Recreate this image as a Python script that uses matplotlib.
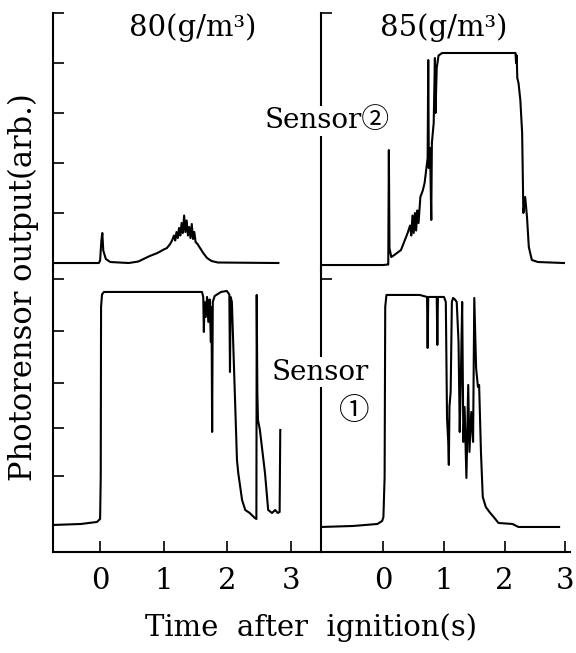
import matplotlib
matplotlib.use('Agg')
import matplotlib.pyplot as plt

# ---- data (arbitrary photosensor units) ----
# 80 g/m3, sensor 2 (upper trace)
t80_s2 = [-0.74, -0.02, 0.0, 0.02, 0.035, 0.05, 0.09, 0.16, 0.45, 0.6, 0.78, 0.9, 1.0, 1.05, 1.1,
          1.13, 1.16, 1.18, 1.2, 1.22, 1.24, 1.26, 1.28, 1.3, 1.32, 1.34, 1.36, 1.38, 1.4, 1.42,
          1.44, 1.46, 1.48, 1.5, 1.53, 1.57, 1.62, 1.68, 1.75, 1.85, 2.8]
v80_s2 = [0.0, 0.0, 0.05, 0.45, 0.6, 0.25, 0.08, 0.02, 0.0, 0.03, 0.14, 0.2, 0.27, 0.3, 0.38,
          0.45, 0.55, 0.45, 0.62, 0.5, 0.7, 0.55, 0.8, 0.6, 0.95, 0.62, 0.85, 0.55, 0.72, 0.5,
          0.78, 0.48, 0.62, 0.42, 0.38, 0.3, 0.2, 0.1, 0.04, 0.01, 0.0]

# 80 g/m3, sensor 1 (lower trace)
t80_s1 = [-0.74, -0.3, -0.05, 0.0, 0.01, 0.015, 0.03, 0.06, 1.0, 1.6, 1.62, 1.63, 1.64, 1.66,
          1.68, 1.7, 1.72, 1.74, 1.75, 1.76, 1.77, 1.8, 1.9, 1.99, 2.03, 2.04, 2.05, 2.07, 2.15,
          2.17, 2.23, 2.28, 2.35, 2.43, 2.455, 2.46, 2.47, 2.48, 2.51, 2.59, 2.64, 2.7, 2.75,
          2.79, 2.82, 2.83]
v80_s1 = [0.54, 0.56, 0.6, 0.66, 1.5, 4.9, 5.15, 5.2, 5.2, 5.2, 5.1, 4.4, 5.0, 4.7,
          5.1, 4.6, 5.05, 4.2, 4.9, 2.4, 5.0, 5.12, 5.2, 5.22, 5.15, 3.6, 5.1, 5.0, 1.84,
          1.58, 1.04, 0.84, 0.78, 0.68, 0.66, 5.14, 3.2, 2.64, 2.44, 1.58, 0.84, 0.78, 0.84,
          0.78, 0.8, 2.44]

# 85 g/m3, sensor 2 (upper trace)
t85_s2 = [-1.03, 0.0, 0.07, 0.08, 0.09, 0.1, 0.13, 0.18, 0.29, 0.4, 0.44, 0.46, 0.48, 0.5, 0.52,
          0.54, 0.56, 0.58, 0.61, 0.65, 0.68, 0.71, 0.73, 0.74, 0.75, 0.77, 0.79, 0.8, 0.83, 0.85,
          0.86, 0.88, 0.91, 0.97, 2.1, 2.18, 2.19, 2.2, 2.21, 2.23, 2.26, 2.29, 2.31, 2.34, 2.37,
          2.4, 2.45, 2.55, 2.98]
v85_s2 = [-0.04, -0.04, -0.03, -0.03, 2.26, 0.3, 0.12, 0.16, 0.26, 0.6, 0.75, 0.55, 0.95, 0.6, 1.0,
          0.65, 1.05, 0.8, 1.32, 1.45, 1.6, 1.9, 2.1, 4.06, 1.9, 2.3, 0.86, 2.4, 2.8, 4.1,
          3.0, 3.9, 4.15, 4.2, 4.2, 4.2, 4.0, 4.15, 3.7, 3.6, 3.26, 2.6, 1.0, 1.32, 0.92,
          0.32, 0.06, 0.02, 0.0]

# 85 g/m3, sensor 1 (lower trace)
t85_s1 = [-1.03, -0.5, -0.1, -0.02, 0.0, 0.02, 0.03, 0.05, 0.6, 0.72, 0.73, 0.74, 0.88, 0.89,
          0.9, 1.0, 1.03, 1.05, 1.07, 1.08, 1.09, 1.11, 1.13, 1.15, 1.18, 1.21, 1.24, 1.26,
          1.28, 1.3, 1.32, 1.34, 1.37, 1.4, 1.42, 1.45, 1.48, 1.5, 1.53, 1.56, 1.58, 1.61,
          1.64, 1.69, 1.75, 1.82, 1.9, 2.13, 2.23, 2.9]
v85_s1 = [0.5, 0.52, 0.56, 0.62, 0.7, 1.5, 4.9, 5.14, 5.14, 5.1, 4.08, 5.1, 5.1, 4.14,
          5.1, 5.1, 5.0, 2.68, 2.2, 1.74, 2.9, 3.2, 5.0, 5.08, 5.05, 5.0, 4.2, 2.4,
          3.6, 5.0, 2.2, 2.9, 1.48, 3.34, 2.0, 2.8, 2.2, 5.08, 3.68, 3.3, 3.34, 2.0,
          1.1, 0.9, 0.8, 0.7, 0.58, 0.56, 0.5, 0.5]

x_ticks = [0, 1, 2, 3]
left_top_yticks = [1, 2, 3, 4, 5]
left_bot_yticks = [1.51, 2.47, 3.37, 4.41, 5.46]

serif = ['DejaVu Serif', 'Noto Sans CJK JP', 'DejaVu Sans']
plt.rcParams['font.family'] = serif

fig = plt.figure(figsize=(5.76, 6.53), dpi=100)

col_x = [(0.092, 0.4653, (-0.74, 3.47)), (0.5573, 0.4323, (-1.03, 3.08))]
top_row = (0.5865, 0.3936)
bot_row = (0.1547, 0.4319)

panels = [((t80_s2, v80_s2), (t80_s1, v80_s1)), ((t85_s2, v85_s2), (t85_s1, v85_s1))]

for i, (x0, w, xl) in enumerate(col_x):
    ax_t = fig.add_axes([x0, top_row[0], w, top_row[1]])
    ax_b = fig.add_axes([x0, bot_row[0], w, bot_row[1]])
    (ts2, vs2), (ts1, vs1) = panels[i]
    ax_t.plot(ts2, vs2, color='black', lw=1.5, solid_joinstyle='round')
    ax_b.plot(ts1, vs1, color='black', lw=1.5, solid_joinstyle='round')

    for ax in (ax_t, ax_b):
        ax.set_xlim(*xl)
        for s in ('top', 'right'):
            ax.spines[s].set_visible(False)
        for s in ax.spines.values():
            s.set_linewidth(1.5)
        ax.tick_params(direction='in', length=8, width=1.2, labelsize=21, pad=11)
        ax.patch.set_alpha(0)

    ax_t.set_ylim(-0.14, 5.0)
    ax_b.set_ylim(0, 5.64)
    ax_t.spines['bottom'].set_visible(False)
    ax_t.set_xticks([])
    ax_b.set_xticks(x_ticks)
    if i == 0:
        ax_t.set_yticks(left_top_yticks)
        ax_b.set_yticks(left_bot_yticks)
    else:
        ax_t.set_yticks([5.0])
        ax_b.set_yticks([5.46])
    ax_t.set_yticklabels([])
    ax_b.set_yticklabels([])

W, H = 576, 653
box = dict(boxstyle='square,pad=0.05', facecolor='white', edgecolor='none')
fig.text(193 / W, 1 - 28 / H, '80(g/m³)', ha='center', va='center', fontsize=21)
fig.text(444 / W, 1 - 28 / H, '85(g/m³)', ha='center', va='center', fontsize=21)
fig.text(327 / W, 1 - 121 / H, 'Sensor②', ha='center', va='center', fontsize=20, bbox=box)
fig.text(320 / W, 1 - 372 / H, 'Sensor', ha='center', va='center', fontsize=20, bbox=box)
fig.text(354 / W, 1 - 412 / H, '①', ha='center', va='center', fontsize=22)
fig.text(23 / W, 1 - 287 / H, 'Photorensor output(arb.)', rotation=90,
         ha='center', va='center', fontsize=22)
fig.text(311 / W, 1 - 628 / H, 'Time  after  ignition(s)', ha='center', va='center', fontsize=21)

fig.savefig('out.png', dpi=100)
